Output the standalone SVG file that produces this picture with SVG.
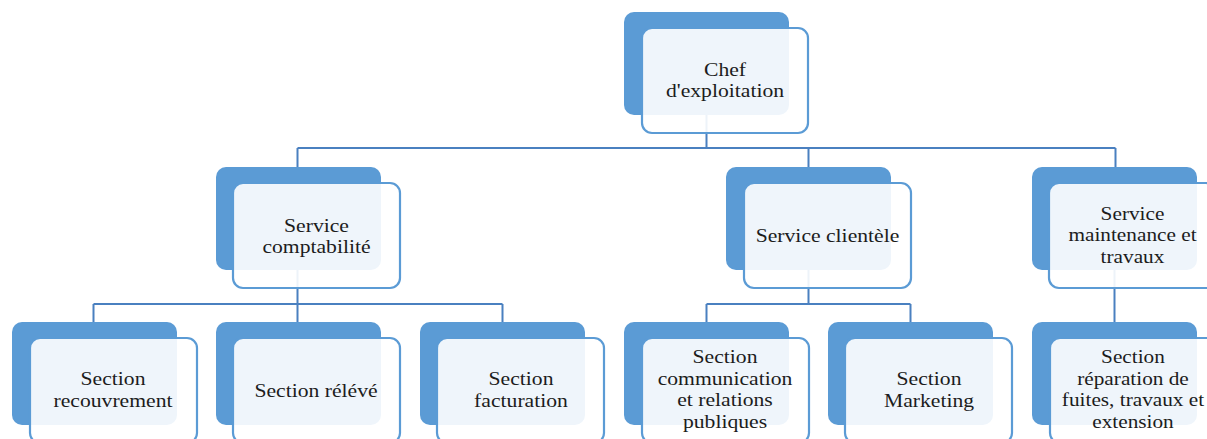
<svg xmlns="http://www.w3.org/2000/svg" width="1207" height="439" viewBox="0 0 1207 439">
<style>
.back{fill:#5b9bd5;}
.front{fill:#ffffff;fill-opacity:0.9;stroke:#5b9bd5;stroke-width:2.2;}
.con{fill:none;stroke:#4a80c0;stroke-width:2;}
.t{font-family:"Liberation Serif","Times New Roman",serif;font-size:19px;fill:#1c1c1c;text-anchor:middle;}
</style>
<rect width="1207" height="439" fill="#ffffff"/>
<g id="connectors">
<path class="con" d="M706.5 115V148M297.5 148H1115.5M297.5 148V167M808.5 148V167M1115.5 148V167"/>
<path class="con" d="M297.5 270V304M93.5 304H502.5M93.5 304V322M297.5 304V322M502.5 304V322"/>
<path class="con" d="M808.5 270V304M706.5 304H910.5M706.5 304V322M910.5 304V322"/>
<path class="con" d="M1114.5 270V322"/>
</g>
<g id="chef">
<rect class="back" x="624" y="12" width="165" height="103" rx="10"/>
<rect class="front" x="642" y="28" width="166" height="105" rx="10"/>
<text class="t" transform="translate(725 0) scale(1.14 1)"><tspan x="0" y="76">Chef</tspan><tspan x="0" y="97">d'exploitation</tspan></text>
</g>
<g id="service-comptabilite">
<rect class="back" x="216" y="167" width="165" height="103" rx="10"/>
<rect class="front" x="233" y="183" width="167" height="105" rx="10"/>
<text class="t" transform="translate(316.5 0) scale(1.14 1)"><tspan x="0" y="232">Service</tspan><tspan x="0" y="253">comptabilité</tspan></text>
</g>
<g id="service-clientele">
<rect class="back" x="726" y="167" width="165" height="103" rx="10"/>
<rect class="front" x="744" y="183" width="167" height="105" rx="10"/>
<text class="t" transform="translate(827.5 0) scale(1.14 1)"><tspan x="0" y="242">Service clientèle</tspan></text>
</g>
<g id="service-maintenance">
<rect class="back" x="1032" y="167" width="165" height="103" rx="10"/>
<rect class="front" x="1049" y="183" width="167" height="105" rx="10"/>
<text class="t" transform="translate(1132.5 0) scale(1.12 1)"><tspan x="0" y="220">Service</tspan><tspan x="0" y="241.5">maintenance et</tspan><tspan x="0" y="263">travaux</tspan></text>
</g>
<g id="section-recouvrement">
<rect class="back" x="12" y="322" width="165" height="103" rx="10"/>
<rect class="front" x="30" y="338" width="167" height="105" rx="10"/>
<text class="t" transform="translate(113 0) scale(1.14 1)"><tspan x="0" y="385">Section</tspan><tspan x="0" y="407">recouvrement</tspan></text>
</g>
<g id="section-releve">
<rect class="back" x="216" y="322" width="165" height="103" rx="10"/>
<rect class="front" x="233" y="338" width="167" height="105" rx="10"/>
<text class="t" transform="translate(316 0) scale(1.14 1)"><tspan x="0" y="397">Section rélévé</tspan></text>
</g>
<g id="section-facturation">
<rect class="back" x="420" y="322" width="165" height="103" rx="10"/>
<rect class="front" x="437" y="338" width="167" height="105" rx="10"/>
<text class="t" transform="translate(521 0) scale(1.14 1)"><tspan x="0" y="385">Section</tspan><tspan x="0" y="407">facturation</tspan></text>
</g>
<g id="section-communication">
<rect class="back" x="624" y="322" width="165" height="103" rx="10"/>
<rect class="front" x="642" y="338" width="167" height="105" rx="10"/>
<text class="t" transform="translate(725 0) scale(1.14 1)"><tspan x="0" y="363">Section</tspan><tspan x="0" y="385">communication</tspan><tspan x="0" y="406.5">et relations</tspan><tspan x="0" y="428">publiques</tspan></text>
</g>
<g id="section-marketing">
<rect class="back" x="828" y="322" width="165" height="103" rx="10"/>
<rect class="front" x="845" y="338" width="167" height="105" rx="10"/>
<text class="t" transform="translate(929 0) scale(1.14 1)"><tspan x="0" y="385">Section</tspan><tspan x="0" y="407">Marketing</tspan></text>
</g>
<g id="section-reparation">
<rect class="back" x="1032" y="322" width="165" height="103" rx="10"/>
<rect class="front" x="1050" y="338" width="167" height="105" rx="10"/>
<text class="t" transform="translate(1133 0) scale(1.12 1)"><tspan x="0" y="363">Section</tspan><tspan x="0" y="385">réparation de</tspan><tspan x="0" y="406.5">fuites, travaux et</tspan><tspan x="0" y="428">extension</tspan></text>
</g>
</svg>
